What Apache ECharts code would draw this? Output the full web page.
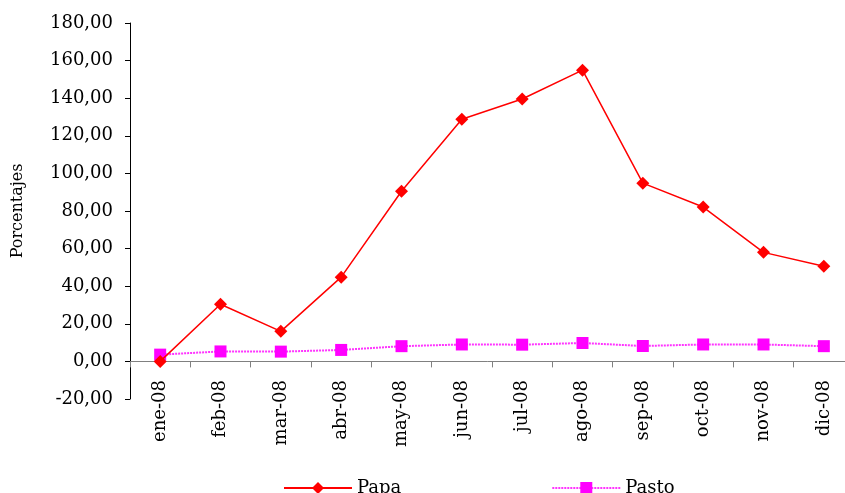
<!DOCTYPE html>
<html>
<head>
<meta charset="utf-8">
<script src="https://cdn.jsdelivr.net/npm/echarts@6/dist/echarts.min.js"></script>
<style>
  html, body { margin: 0; padding: 0; background: #fff; }
  #chart { width: 845px; height: 493px; }
</style>
</head>
<body>
<div id="chart"></div>
<script>
const months = ['ene-08', 'feb-08', 'mar-08', 'abr-08', 'may-08', 'jun-08',
  'jul-08', 'ago-08', 'sep-08', 'oct-08', 'nov-08', 'dic-08'];
const papa = [0.0, 30.4, 16.0, 44.8, 90.5, 128.8, 139.6, 154.9, 94.8, 82.1, 58.0, 50.6];
const pasto = [3.6, 5.3, 5.2, 6.1, 8.1, 9.0, 8.9, 9.8, 8.2, 9.0, 9.0, 8.1];

const serif = 'DejaVu Serif';
const fmt = (v) => v.toFixed(2).replace('.', ',');

const chart = echarts.init(document.getElementById('chart'));

const option = {
  animation: false,
  backgroundColor: '#fff',
  // plot area runs past the right edge in the original, so no clamping
  grid: { left: 130, width: 724, top: 23, bottom: 94, outerBoundsMode: 'none' },
  legend: {
    left: 278,
    top: 474,
    itemGap: 150,
    itemWidth: 68,
    itemHeight: 15,
    textStyle: { fontFamily: serif, fontSize: 18, color: '#000' },
    data: ['Papa', 'Pasto'],
  },
  xAxis: {
    type: 'category',
    data: months,
    boundaryGap: true,
    axisLine: { onZero: true, lineStyle: { color: '#808080', width: 1 } },
    axisTick: { show: true, length: 6, interval: 0, lineStyle: { color: '#808080' } },
    axisLabel: {
      rotate: 90,
      interval: 0,
      margin: -19,
      fontFamily: serif,
      fontSize: 18,
      color: '#000',
    },
    splitLine: { show: false },
  },
  yAxis: {
    type: 'value',
    min: -20,
    max: 180,
    interval: 20,
    name: 'Porcentajes',
    nameLocation: 'middle',
    nameRotate: 90,
    nameGap: 104,
    nameTextStyle: { fontFamily: serif, fontSize: 16, color: '#000' },
    axisLine: { show: true, onZero: false, lineStyle: { color: '#000', width: 1 } },
    axisTick: { show: true, length: 5, lineStyle: { color: '#000' } },
    axisLabel: {
      margin: 17,
      fontFamily: serif,
      fontSize: 18,
      color: '#000',
      formatter: fmt,
    },
    splitLine: { show: false },
  },
  series: [
    {
      name: 'Papa',
      type: 'line',
      data: papa,
      symbol: 'diamond',
      symbolSize: 13,
      color: '#ff0000',
      lineStyle: { color: '#ff0000', width: 1.5 },
      itemStyle: { color: '#ff0000' },
      z: 3,
    },
    {
      name: 'Pasto',
      type: 'line',
      data: pasto,
      symbol: 'rect',
      symbolSize: 12,
      color: '#ff00ff',
      lineStyle: { color: '#ff00ff', width: 2, type: [2, 1], opacity: 0.8 },
      itemStyle: { color: '#ff00ff' },
      z: 2,
    },
  ],
};

chart.setOption(option);
</script>
</body>
</html>
